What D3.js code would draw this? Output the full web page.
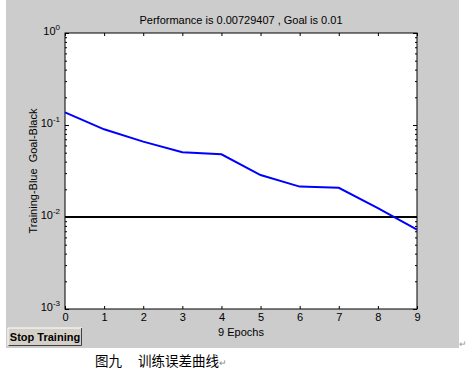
<!DOCTYPE html>
<html>
<head>
<meta charset="utf-8">
<script src="https://cdn.jsdelivr.net/npm/d3@7"></script>
<style>
  body { margin: 0; background: #fff; }
  text { font-family: "Liberation Sans", Arial, sans-serif; white-space: pre; }
</style>
</head>
<body>
<div id="chart"></div>
<script>
// data
var epochs = [0, 1, 2, 3, 4, 5, 6, 7, 8, 9];
var perf = [0.137, 0.0898, 0.0659, 0.0505, 0.048, 0.0286, 0.0214, 0.0208, 0.0125, 0.00729407];
var goal = 0.01;
var xTicks = [0, 1, 2, 3, 4, 5, 6, 7, 8, 9];
var yTicks = [1e-3, 1e-2, 1e-1, 1];
var titleText = "Performance is 0.00729407 , Goal is 0.01";
var yLabel = "Training-Blue  Goal-Black";
var xLabel = "9 Epochs";
var captionA = "图九";
var captionB = "训练误差曲线";

var svgWidth = 466;
var svgHeight = 376;
var plot = { left: 65, right: 417, top: 33, bottom: 309 };

var svg = d3
  .select("#chart")
  .append("svg")
  .attr("width", svgWidth)
  .attr("height", svgHeight);

// gray figure background
svg.append("rect")
  .attr("x", 6).attr("y", 0)
  .attr("width", 453).attr("height", 348)
  .attr("fill", "#cccccc");

svg.append("rect")
  .attr("x", plot.left).attr("y", plot.top)
  .attr("width", plot.right - plot.left)
  .attr("height", plot.bottom - plot.top)
  .attr("fill", "#fff");

var xScale = d3.scaleLinear().domain([0, 9]).range([plot.left, plot.right]);
var yScale = d3.scaleLog().domain([1e-3, 1]).range([plot.bottom, plot.top]);

// minor ticks for the log axis
var minor = [];
[1e-3, 1e-2, 1e-1].forEach(d => {
  for (var k = 2; k <= 9; k++) minor.push(d * k);
});

// axes, ticks pointing inward
var bottomAxis = d3.axisBottom(xScale).tickValues(xTicks).tickSize(-3).tickPadding(4).tickFormat(d3.format("d"));
var topAxis = d3.axisTop(xScale).tickValues(xTicks).tickSize(-3).tickFormat("");
var leftAxis = d3.axisLeft(yScale).tickValues(yTicks).tickSize(-4).tickFormat("");
var rightAxis = d3.axisRight(yScale).tickValues(yTicks).tickSize(-4).tickFormat("");
var leftMinor = d3.axisLeft(yScale).tickValues(minor).tickSize(-2).tickFormat("");
var rightMinor = d3.axisRight(yScale).tickValues(minor).tickSize(-2).tickFormat("");

function styleAxis(g) {
  g.select(".domain").remove();
  g.selectAll("line").attr("stroke", "#000");
  g.selectAll("text").attr("fill", "#000").attr("font-size", "11px")
    .style("font-family", "'Liberation Sans', Arial, sans-serif");
}

svg.append("g").attr("transform", `translate(0,${plot.bottom})`).call(bottomAxis).call(styleAxis);
svg.append("g").attr("transform", `translate(0,${plot.top})`).call(topAxis).call(styleAxis);
svg.append("g").attr("transform", `translate(${plot.left},0)`).call(leftAxis).call(styleAxis);
svg.append("g").attr("transform", `translate(${plot.right},0)`).call(rightAxis).call(styleAxis);
svg.append("g").attr("transform", `translate(${plot.left},0)`).call(leftMinor).call(styleAxis);
svg.append("g").attr("transform", `translate(${plot.right},0)`).call(rightMinor).call(styleAxis);

// y tick labels as 10 with superscript exponent
yTicks.forEach(d => {
  var t = svg.append("text")
    .attr("x", plot.left - 5)
    .attr("y", yScale(d) + 2)
    .attr("text-anchor", "end")
    .attr("font-size", "11px")
    .attr("fill", "#000");
  t.append("tspan").text("10");
  t.append("tspan")
    .attr("dy", "-5")
    .attr("font-size", "8px")
    .text(String(Math.round(Math.log10(d))));
});

// plot box
svg.append("rect")
  .attr("x", plot.left).attr("y", plot.top)
  .attr("width", plot.right - plot.left)
  .attr("height", plot.bottom - plot.top)
  .attr("fill", "none")
  .attr("stroke", "#000")
  .attr("stroke-width", 1);

// goal line
svg.append("line")
  .attr("x1", xScale(0)).attr("x2", xScale(9))
  .attr("y1", yScale(goal)).attr("y2", yScale(goal))
  .attr("stroke", "#000")
  .attr("stroke-width", 2);

// training line
var line = d3.line()
  .x((d, i) => xScale(epochs[i]))
  .y(d => yScale(d));
svg.append("path")
  .datum(perf)
  .attr("d", line)
  .attr("fill", "none")
  .attr("stroke", "#0000ff")
  .attr("stroke-width", 2);

// title and axis labels
svg.append("text")
  .attr("x", (plot.left + plot.right) / 2)
  .attr("y", 24)
  .attr("text-anchor", "middle")
  .attr("font-size", "11px")
  .text(titleText);

svg.append("text")
  .attr("transform", "rotate(-90)")
  .attr("x", -(plot.top + plot.bottom) / 2)
  .attr("y", 37)
  .attr("text-anchor", "middle")
  .attr("font-size", "11px")
  .text(yLabel);

svg.append("text")
  .attr("x", (plot.left + plot.right) / 2)
  .attr("y", 336)
  .attr("text-anchor", "middle")
  .attr("font-size", "11px")
  .text(xLabel);

// stop training button
var btn = svg.append("g");
btn.append("rect")
  .attr("x", 8).attr("y", 328).attr("width", 74).attr("height", 18)
  .attr("fill", "#d4d0c8");
btn.append("path")
  .attr("d", "M8,346 L8,328 L82,328")
  .attr("fill", "none").attr("stroke", "#fff");
btn.append("path")
  .attr("d", "M8.5,345.5 L81.5,345.5 L81.5,328")
  .attr("fill", "none").attr("stroke", "#404040");
btn.append("text")
  .attr("x", 45).attr("y", 341)
  .attr("text-anchor", "middle")
  .attr("font-size", "11px")
  .attr("font-weight", "bold")
  .text("Stop Training");

// small return marks
svg.append("text")
  .attr("x", 459).attr("y", 347)
  .attr("font-size", "9px")
  .attr("fill", "#999")
  .text("↵");

svg.append("text")
  .attr("x", 95).attr("y", 366)
  .attr("font-size", "13.5px")
  .style("font-family", "'Noto Sans CJK SC', sans-serif")
  .text(captionA);
var cap = svg.append("text")
  .attr("x", 138).attr("y", 366)
  .attr("font-size", "13.5px")
  .style("font-family", "'Noto Sans CJK SC', sans-serif")
  .text(captionB);
cap.append("tspan").attr("font-size", "9px").attr("fill", "#888").text("↵");
</script>
</body>
</html>
